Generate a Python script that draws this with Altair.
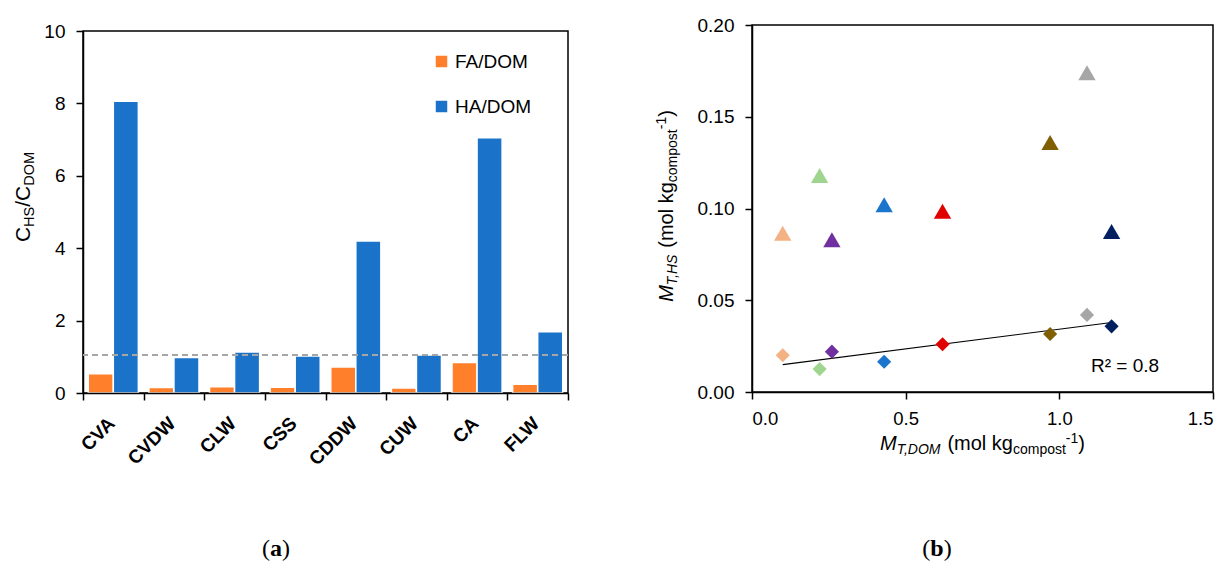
import altair as alt
import numpy as np
import pandas as pd

# ---- panel (a): humic fractions relative to DOM carbon ----
samples = ["CVA", "CVDW", "CLW", "CSS", "CDDW", "CUW", "CA", "FLW"]
fa_dom = [0.53, 0.15, 0.17, 0.16, 0.72, 0.14, 0.84, 0.24]
ha_dom = [8.06, 0.98, 1.13, 1.02, 4.20, 1.05, 7.05, 1.69]
fractions = ["FA/DOM", "HA/DOM"]
fraction_colors = ["#FF7F2A", "#1A73C9"]
reference_level = [1.05]
ratio_ticks = [0, 2, 4, 6, 8, 10]

# ---- panel (b): total moles bound to HS vs. DOM ----
m_t_dom = [0.10, 0.22, 0.26, 0.43, 0.62, 0.97, 1.09, 1.17]
m_t_hs_triangle = [0.0865, 0.118, 0.083, 0.102, 0.0985, 0.136, 0.174, 0.0875]
m_t_hs_diamond = [0.020, 0.0125, 0.022, 0.0165, 0.026, 0.0316, 0.042, 0.0358]
point_colors = ["#F4B183", "#A0D58F", "#7030A0", "#1C75CD",
                "#E00000", "#7F5F00", "#A6A6A6", "#002060"]
dom_ticks = [0, 0.5, 1.0, 1.5]
hs_ticks = [0, 0.05, 0.10, 0.15, 0.20]

FONT = "Liberation Sans"
SERIF = "Liberation Serif"

# advance widths (em) used to lay out titles made of several text runs
SANS_W = {" ": 0.278, "(": 0.333, ")": 0.333, ",": 0.278, "-": 0.333, "/": 0.278,
          "1": 0.556, "C": 0.722, "D": 0.722, "H": 0.722, "M": 0.833, "O": 0.778,
          "S": 0.667, "T": 0.611, "c": 0.5, "g": 0.556, "k": 0.5, "l": 0.222,
          "m": 0.833, "o": 0.556, "p": 0.556, "s": 0.5, "t": 0.278}
SERIF_W = {"(": 0.333, ")": 0.333, "a": 0.5, "b": 0.556}


def width_of(s, size, table=SANS_W):
    return sum(table.get(ch, 0.556) for ch in s) * size


def text_piece(txt, x, y, size, font=FONT, style="normal", weight="normal", angle=0):
    return alt.Chart(pd.DataFrame({"t": [txt]})).mark_text(
        font=font, fontSize=size, fontStyle=style, fontWeight=weight, angle=angle,
        align="left", baseline="alphabetic", color="black",
    ).encode(text="t:N", x=alt.value(x), y=alt.value(y))


def rich_title(pieces, center, baseline, vertical=False):
    """Title built from runs with their own size, style and sub/superscript shift."""
    total = sum(width_of(t, s) for t, s, _, _ in pieces)
    pos = center + total / 2 if vertical else center - total / 2
    layers = []
    for txt, size, shift, style in pieces:
        body = txt.lstrip(" ")
        lead = width_of(" " * (len(txt) - len(body)), size)
        if vertical:
            pos -= lead
            layers.append(text_piece(body, baseline + shift, pos, size, style=style, angle=270))
            pos -= width_of(body, size)
        else:
            pos += lead
            layers.append(text_piece(body, pos, baseline + shift, size, style=style))
            pos += width_of(body, size)
    return layers


def caption(letter, center, baseline, size=24):
    parts = [("(", "normal"), (letter, "bold"), (")", "normal")]
    total = sum(width_of(p, size, SERIF_W) for p, _ in parts)
    x = center - total / 2
    layers = []
    for p, weight in parts:
        layers.append(text_piece(p, x, baseline, size, font=SERIF, weight=weight))
        x += width_of(p, size, SERIF_W)
    return layers


# ---------------- panel (a) ----------------
W_A, H_A = 485, 362
bar_df = pd.DataFrame({
    "sample": samples * 2,
    "fraction": [fractions[0]] * len(samples) + [fractions[1]] * len(samples),
    "ratio": fa_dom + ha_dom,
})

y_axis_a = alt.Axis(title=None, values=ratio_ticks, labelFontSize=19, tickSize=7,
                    labelPadding=11, grid=False)
y_scale_a = alt.Scale(domain=[0, 10], nice=False)

bars = alt.Chart(bar_df).mark_bar(stroke="white", strokeWidth=1.5).encode(
    x=alt.X("sample:N", sort=samples, scale=alt.Scale(paddingInner=0, paddingOuter=0),
            axis=alt.Axis(title=None, labelAngle=315, labelAlign="right",
                          labelBaseline="middle", labelFontSize=19,
                          labelFontWeight="bold", labelPadding=20, labelOffset=-2,
                          tickBand="extent", tickSize=7, zindex=1)),
    xOffset=alt.XOffset("fraction:N", sort=fractions,
                        scale=alt.Scale(paddingInner=0, paddingOuter=0.21)),
    y=alt.Y("ratio:Q", scale=y_scale_a, axis=y_axis_a),
    color=alt.Color("fraction:N", scale=alt.Scale(domain=fractions, range=fraction_colors),
                    legend=alt.Legend(title=None, orient="none", legendX=349, legendY=27,
                                      symbolType="square", symbolSize=132,
                                      symbolStrokeWidth=0, labelFontSize=19,
                                      labelOffset=4, rowPadding=25, padding=0)),
)

level = alt.Chart(pd.DataFrame({"level": reference_level})).mark_rule(
    color="#A6A6A6", strokeWidth=2, strokeDash=[6, 4]
).encode(y=alt.Y("level:Q", scale=y_scale_a, axis=y_axis_a))

title_a = rich_title([("C", 21, 0, "normal"), ("HS", 14.5, 4, "normal"),
                      ("/C", 21, 0, "normal"), ("DOM", 14.5, 4, "normal")],
                     center=166, baseline=-53, vertical=True)

panel_a = alt.layer(bars, level, *title_a, *caption("a", 193, 525)).properties(
    width=W_A, height=H_A)

spacer = alt.Chart(pd.DataFrame({"v": [0]})).mark_point(opacity=0).encode(
    x=alt.value(3), y=alt.value(3)
).properties(width=10, height=6, view=alt.ViewBackground(strokeOpacity=0))

left_col = alt.vconcat(spacer, panel_a, spacing=0, bounds="flush")

# ---------------- panel (b) ----------------
W_B, H_B = 461, 367
n = len(m_t_dom)
pts_df = pd.DataFrame({
    "m_dom": m_t_dom * 2,
    "m_hs": m_t_hs_triangle + m_t_hs_diamond,
    "marker": ["triangle"] * n + ["diamond"] * n,
    "point": [f"p{i}" for i in range(n)] * 2,
})
fit_df = pd.DataFrame({"m_dom": m_t_dom, "m_hs": m_t_hs_diamond})

x_b = alt.X("m_dom:Q", scale=alt.Scale(domain=[0, 1.5], nice=False),
            axis=alt.Axis(title=None, values=dom_ticks, format=".1f", labelFontSize=18.5,
                          tickSize=7, labelPadding=10, grid=False))
y_b = alt.Y("m_hs:Q", scale=alt.Scale(domain=[0, 0.2], nice=False),
            axis=alt.Axis(title=None, values=hs_ticks, format=".2f", labelFontSize=19,
                          tickSize=7, labelPadding=11, grid=False))

trend = alt.Chart(fit_df).transform_regression("m_dom", "m_hs").mark_line(
    color="black", strokeWidth=1.2).encode(x=x_b, y=y_b)

points = alt.Chart(pts_df).mark_point(filled=True, opacity=1, strokeWidth=0).encode(
    x=x_b, y=y_b,
    color=alt.Color("point:N",
                    scale=alt.Scale(domain=[f"p{i}" for i in range(n)], range=point_colors),
                    legend=None),
    shape=alt.Shape("marker:N", scale=alt.Scale(domain=["triangle", "diamond"],
                                                range=["triangle-up", "diamond"]),
                    legend=None),
    size=alt.Size("marker:N", scale=alt.Scale(domain=["triangle", "diamond"],
                                              range=[300, 200]), legend=None),
)

r2 = np.corrcoef(m_t_dom, m_t_hs_diamond)[0, 1] ** 2
r2_label = text_piece(f"R² = {r2:.1f}", 339, 346.5, 19)

title_by = rich_title([("M", 20, 0, "italic"), ("T,HS", 14, 4, "italic"),
                       (" (mol kg", 20, 0, "normal"), ("compost", 14, 4, "normal"),
                       ("-1", 14, -7, "normal"), (")", 20, 0, "normal")],
                      center=181, baseline=-79, vertical=True)
title_bx = rich_title([("M", 20, 0, "italic"), ("T,DOM", 14, 4, "italic"),
                       (" (mol kg", 20, 0, "normal"), ("compost", 14, 4, "normal"),
                       ("-1", 14, -7, "normal"), (")", 20, 0, "normal")],
                      center=230.5, baseline=425)

panel_b = alt.layer(trend, points, r2_label, *title_by, *title_bx,
                    *caption("b", 185, 531)).properties(width=W_B, height=H_B)

chart = alt.hconcat(left_col, panel_b, spacing=84).resolve_scale(
    color="independent", shape="independent", size="independent"
).properties(
    padding={"left": 12, "top": 15, "right": 0, "bottom": 0}
).configure(font=FONT).configure_view(
    stroke="black", strokeWidth=1.5
).configure_axis(
    domainColor="black", domainWidth=1.5, tickColor="black", tickWidth=1.5,
    labelColor="black", labelFont=FONT
).configure_legend(labelFont=FONT, labelColor="black")

chart.save("out.html", embed_options={"renderer": "svg", "actions": False})
